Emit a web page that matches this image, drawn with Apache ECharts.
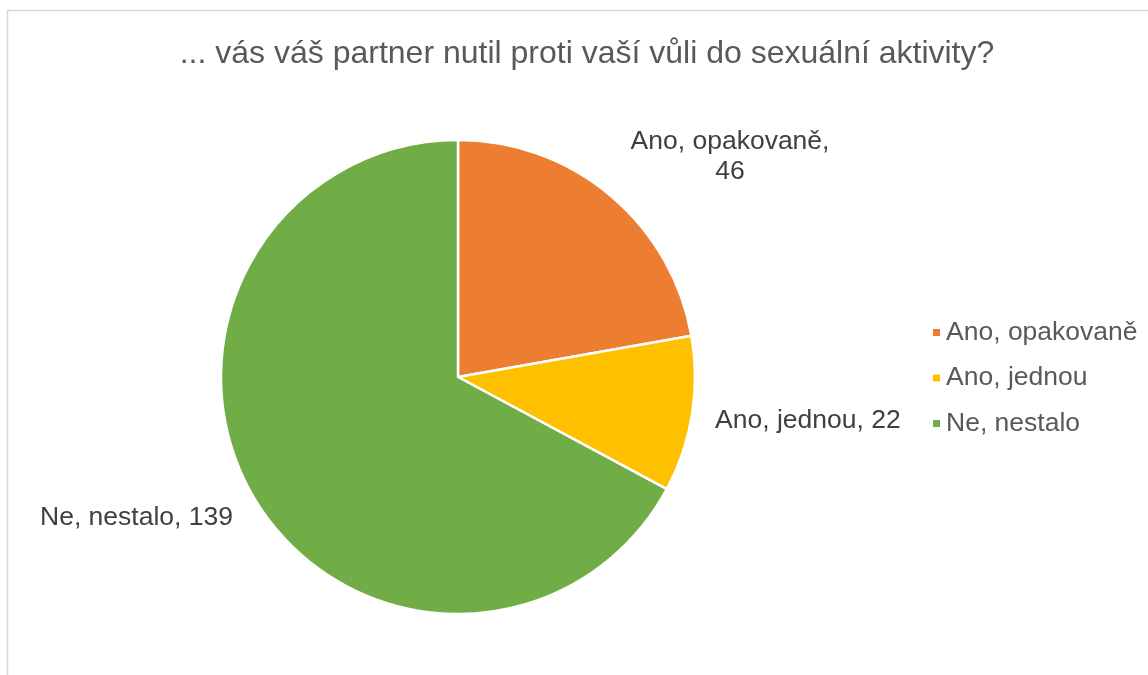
<!DOCTYPE html>
<html>
<head>
<meta charset="utf-8">
<script src="https://cdn.jsdelivr.net/npm/echarts@6/dist/echarts.min.js"></script>
<style>
  html, body { margin: 0; padding: 0; background: #fff; }
  #chart { width: 1148px; height: 675px; }
</style>
</head>
<body>
<div id="chart"></div>
<script>
const categories = ['Ano, opakovaně', 'Ano, jednou', 'Ne, nestalo']
const values = [46, 22, 139]
const colors = ['#ED7D31', '#FFC000', '#70AD47']
const titleText = '... vás váš partner nutil proti vaší vůli do sexuální aktivity?'

// where each data label sits (text anchor), by slice index
const labelSpots = [
  { x: 730, y: 157, align: 'center' },
  { x: 715, y: 421, align: 'left' },
  { x: 40, y: 518, align: 'left' },
]

const font = '"Liberation Sans", Arial, sans-serif'
const chart = echarts.init(document.getElementById('chart'))

chart.setOption({
  animation: false,
  title: {
    text: titleText,
    left: 582,
    top: 33,
    textAlign: 'center',
    textStyle: { fontFamily: font, fontSize: 32, fontWeight: 'normal', color: '#595959' },
  },
  graphic: [
    {
      type: 'rect',
      shape: { x: 7.5, y: 10.5, width: 1200, height: 700 },
      style: { fill: 'none', stroke: '#d9d9d9', lineWidth: 1.5 },
      silent: true,
    },
  ],
  legend: {
    orient: 'vertical',
    left: 926,
    top: 313,
    icon: 'rect',
    itemWidth: 9,
    itemHeight: 9,
    itemGap: 16.5,
    textStyle: { fontFamily: font, fontSize: 26.5, color: '#595959', lineHeight: 29 },
    data: categories,
  },
  series: [
    {
      type: 'pie',
      center: [458, 377],
      radius: 237,
      startAngle: 90,
      clockwise: true,
      itemStyle: { borderColor: '#fff', borderWidth: 2.5 },
      label: {
        show: true,
        position: 'outside',
        fontFamily: font,
        fontSize: 26.5,
        color: '#404040',
        lineHeight: 30,
        formatter: (p) => (p.dataIndex === 0 ? p.name + ',\n' + p.value : p.name + ', ' + p.value),
      },
      labelLine: { show: false },
      labelLayout: (p) => {
        const s = labelSpots[p.dataIndex]
        return { x: s.x, y: s.y, align: s.align, verticalAlign: 'middle' }
      },
      data: categories.map((name, i) => ({ name, value: values[i], itemStyle: { color: colors[i] } })),
    },
  ],
})
</script>
</body>
</html>
